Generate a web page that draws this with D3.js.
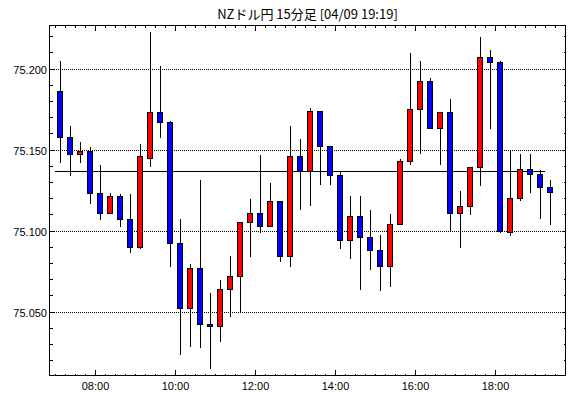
<!DOCTYPE html>
<html>
<head>
<meta charset="utf-8">
<script src="https://cdn.jsdelivr.net/npm/d3@7"></script>
<style>
  html, body { margin: 0; padding: 0; background: #fff; }
  svg { display: block; }
  text { font-family: "Liberation Sans", Arial, sans-serif; font-size: 11px; fill: #000; }
  .title { font-family: "Noto Sans CJK JP", "Liberation Sans", sans-serif; font-size: 13px; }
</style>
</head>
<body>
<svg id="chart" width="570" height="398"></svg>
<script>
const titleText = "NZドル円 15分足 [04/09 19:19]";
const times = ["07:00","07:15","07:30","07:45","08:00","08:15","08:30","08:45",
  "09:00","09:15","09:30","09:45","10:00","10:15","10:30","10:45",
  "11:00","11:15","11:30","11:45","12:00","12:15","12:30","12:45",
  "13:00","13:15","13:30","13:45","14:00","14:15","14:30","14:45",
  "15:00","15:15","15:30","15:45","16:00","16:15","16:30","16:45",
  "17:00","17:15","17:30","17:45","18:00","18:15","18:30","18:45",
  "19:00","19:15"];
const opens = [75.186,75.158,75.147,75.149,75.123,75.111,75.121,75.107,
  75.090,75.145,75.173,75.167,75.092,75.052,75.077,75.042,
  75.041,75.064,75.072,75.105,75.111,75.103,75.118,75.084,
  75.146,75.137,75.174,75.152,75.134,75.094,75.109,75.096,
  75.088,75.078,75.104,75.143,75.175,75.192,75.163,75.173,
  75.111,75.115,75.139,75.207,75.204,75.099,75.120,75.138,
  75.135,75.127];
const highs = [75.205,75.165,75.155,75.152,75.141,75.124,75.123,75.123,
  75.154,75.223,75.202,75.168,75.108,75.080,75.132,75.062,
  75.070,75.085,75.106,75.120,75.147,75.130,75.118,75.165,
  75.157,75.176,75.174,75.152,75.137,75.122,75.122,75.113,
  75.098,75.111,75.145,75.210,75.205,75.195,75.173,75.182,
  75.125,75.140,75.220,75.212,75.205,75.150,75.148,75.148,
  75.138,75.132];
const lows = [75.142,75.134,75.142,75.117,75.107,75.111,75.103,75.087,
  75.089,75.140,75.158,75.078,75.024,75.029,75.028,75.015,
  75.032,75.047,75.050,75.084,75.099,75.103,75.081,75.078,
  75.113,75.116,75.129,75.129,75.089,75.083,75.064,75.076,
  75.063,75.066,75.104,75.141,75.148,75.163,75.141,75.100,
  75.090,75.110,75.128,75.163,75.099,75.097,75.119,75.124,
  75.108,75.104];
const closes = [75.158,75.147,75.149,75.123,75.111,75.121,75.107,75.090,
  75.146,75.173,75.167,75.092,75.052,75.077,75.042,75.041,
  75.064,75.072,75.105,75.111,75.103,75.118,75.084,75.146,
  75.137,75.174,75.152,75.134,75.094,75.109,75.096,75.088,
  75.078,75.104,75.143,75.175,75.192,75.163,75.173,75.111,
  75.115,75.139,75.207,75.204,75.100,75.120,75.138,75.135,
  75.127,75.124];
const refLine = 75.137;
const yMajorTicks = [75.050, 75.100, 75.150, 75.200];
const yTickLabels = ["75.050", "75.100", "75.150", "75.200"];
const xTickLabels = ["08:00", "10:00", "12:00", "14:00", "16:00", "18:00"];
const yMinorTicks = [75.020,75.030,75.040,75.050,75.060,75.070,75.080,75.090,75.100,
  75.110,75.120,75.130,75.140,75.150,75.160,75.170,75.180,75.190,75.200,75.210,75.220];

const day = "2000-01-01 ";
const pt = s => d3.timeParse("%Y-%m-%d %H:%M")(day + s);

const L = 49.5, R = 565.5, T = 25.5, B = 375.5;
const x = d3.scaleTime().domain([pt("06:51"), pt("19:45")]).range([L, R]);
const y = d3.scaleLinear().domain([75.2 - (B - 68.5) / 1620, 75.2 + (68.5 - T) / 1620]).range([B, T]);
const py = v => Math.round(y(v)) + 0.5;
const half = 7.5 * 60 * 1000;
const cx = s => Math.round(x(new Date(pt(s).getTime() + half)) - 0.5) + 0.5;

const svg = d3.select("#chart");

svg.append("text").attr("class", "title").attr("x", (L + R) / 2).attr("y", 19)
  .attr("text-anchor", "middle").text(titleText);

// grid
svg.append("g").selectAll("line").data(yMajorTicks).join("line")
  .attr("x1", L).attr("x2", R).attr("y1", d => py(d)).attr("y2", d => py(d))
  .attr("stroke", "#000").attr("stroke-dasharray", "1,1").attr("shape-rendering", "crispEdges");

// minor y ticks (left & right)
const gy = svg.append("g").attr("shape-rendering", "crispEdges");
yMinorTicks.forEach(v => {
  const major = yMajorTicks.some(m => Math.abs(m - v) < 1e-6);
  gy.append("line").attr("x1", L).attr("x2", L + (major ? 5 : 3)).attr("y1", py(v)).attr("y2", py(v)).attr("stroke", "#000");
  gy.append("line").attr("x1", R).attr("x2", R - (major ? 4 : 2)).attr("y1", py(v)).attr("y2", py(v)).attr("stroke", "#000");
});

// y labels
svg.append("g").selectAll("text").data(yMajorTicks).join("text")
  .attr("x", 47).attr("y", d => py(d) + 4.5).attr("text-anchor", "end")
  .text((d, i) => yTickLabels[i]);

// x ticks every 15 min
const gx = svg.append("g").attr("shape-rendering", "crispEdges");
const tks = d3.timeMinute.every(15).range(pt("07:00"), pt("19:46"));
tks.forEach(t => {
  const major = t.getMinutes() === 0 && t.getHours() % 2 === 0;
  const xx = Math.round(x(t) - 0.5) + 0.5;
  gx.append("line").attr("x1", xx).attr("x2", xx).attr("y1", B).attr("y2", B - (major ? 6 : 2)).attr("stroke", "#000");
  gx.append("line").attr("x1", xx).attr("x2", xx).attr("y1", T).attr("y2", T + (major ? 5 : 2)).attr("stroke", "#000");
});
svg.append("g").selectAll("text").data(xTickLabels).join("text")
  .attr("x", d => Math.round(x(pt(d)) - 0.5) + 0.5).attr("y", 390).attr("text-anchor", "middle").text(d => d);

// frame
svg.append("rect").attr("x", L).attr("y", T).attr("width", R - L).attr("height", B - T)
  .attr("fill", "none").attr("stroke", "#000").attr("shape-rendering", "crispEdges");

// reference line
svg.append("line").attr("x1", cx(times[0]) - 5.5).attr("x2", cx(times[times.length - 1]) - 5.5)
  .attr("y1", py(refLine)).attr("y2", py(refLine)).attr("stroke", "#000").attr("shape-rendering", "crispEdges");

// candles
const gc = svg.append("g").attr("shape-rendering", "crispEdges");
times.forEach((t, i) => {
  const c = cx(t);
  const o = opens[i], h = highs[i], l = lows[i], cl = closes[i];
  gc.append("line").attr("x1", c).attr("x2", c).attr("y1", py(h)).attr("y2", py(l)).attr("stroke", "#000");
  const top = py(Math.max(o, cl)), bot = py(Math.min(o, cl));
  gc.append("rect").attr("x", c - 3).attr("y", top).attr("width", 5).attr("height", Math.max(bot - top, 1))
    .attr("fill", cl >= o ? "#ff0000" : "#0000ff").attr("stroke", "#000");
});
</script>
</body>
</html>
